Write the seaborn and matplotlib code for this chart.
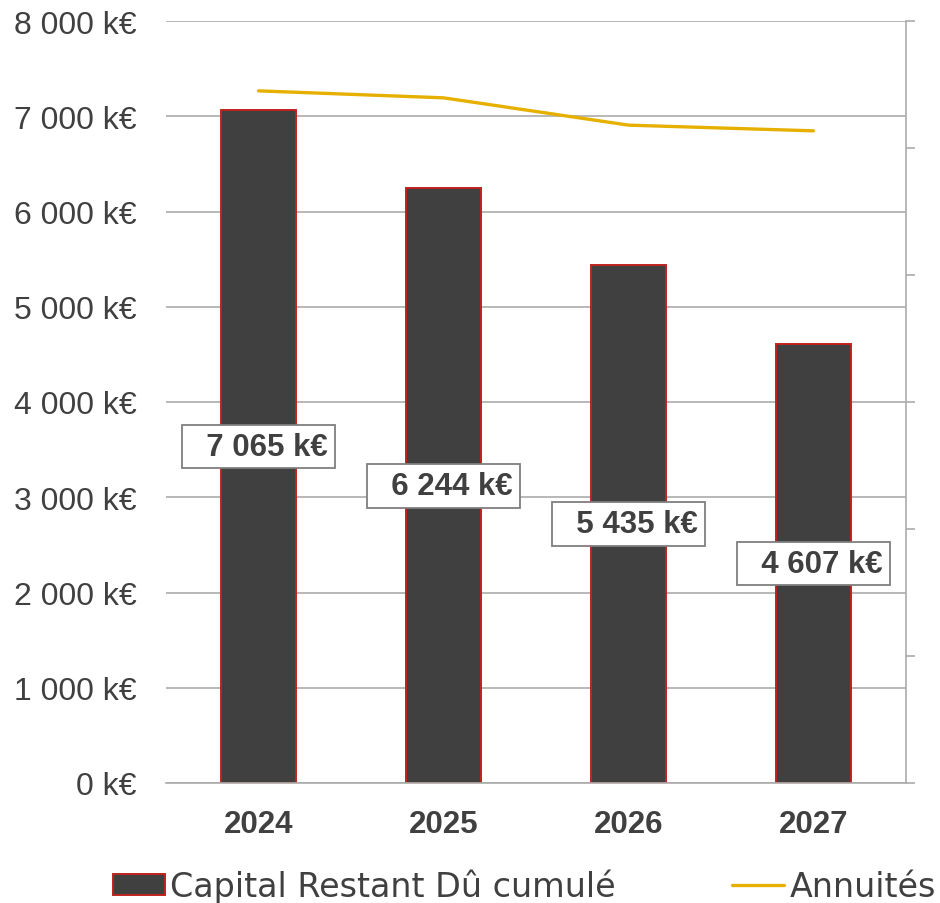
import matplotlib
matplotlib.use("Agg")
import matplotlib.pyplot as plt
import seaborn as sns
import numpy as np
import pandas as pd
from matplotlib.patches import Patch
from matplotlib.lines import Line2D
from matplotlib.ticker import FuncFormatter, MultipleLocator

# Data
years = ["2024", "2025", "2026", "2027"]
capital_restant = [7065, 6244, 5435, 4607]      # k€
annuites = [1090, 1079, 1036, 1027]             # k€ (right axis)

TEXT = "#404040"
BAR = "#404040"
EDGE = "#C0221F"
GOLD = "#E6B000"
GRID = "#ABABAB"

sns.set_theme(style="white")
plt.rcParams["font.family"] = ["Liberation Sans", "DejaVu Sans"]
plt.rcParams["text.color"] = TEXT

fig = plt.figure(figsize=(9.4, 9.04), dpi=100)
ax = fig.add_axes([166 / 940, 1 - 784 / 904, (906 - 166) / 940, (784 - 22) / 904])

df = pd.DataFrame({"annee": years, "capital": capital_restant})
sns.barplot(data=df, x="annee", y="capital", ax=ax, color=BAR, width=0.405,
            saturation=1, edgecolor=EDGE, linewidth=1.4, zorder=2)

ax.set_ylim(0, 8000)
ax.set_xlim(-0.5, len(years) - 0.5)
ax.yaxis.set_major_locator(MultipleLocator(1000))
ax.yaxis.set_major_formatter(FuncFormatter(lambda v, p: f"{int(v):,}".replace(",", " ") + " k€"))
ax.set_axisbelow(True)
ax.grid(axis="y", color=GRID, linewidth=1.2)
ax.grid(axis="x", visible=False)
for s in ["top", "left", "right"]:
    ax.spines[s].set_visible(False)
ax.spines["bottom"].set_color(GRID)
ax.spines["bottom"].set_linewidth(1.2)
ax.set_xlabel("")
ax.set_ylabel("")
ax.tick_params(axis="y", length=0, pad=21, labelsize=23, labelcolor=TEXT)
ax.tick_params(axis="x", length=0, pad=19, labelsize=22.5, labelcolor=TEXT)
for t in ax.get_xticklabels():
    t.set_fontweight("bold")

# Value labels centred on each bar
labels = ["  " + f"{v:,}".replace(",", " ") + " k€" for v in capital_restant]
ax.bar_label(ax.containers[0], labels=labels, label_type="center",
             fontsize=22.5, fontweight="bold", color=TEXT,
             bbox=dict(boxstyle="square,pad=0.22", facecolor="white",
                       edgecolor="#7F7F7F", linewidth=1.3), zorder=5)

# Secondary axis for the annuities line
ax2 = ax.twinx()
sns.lineplot(x=np.arange(len(years)), y=annuites, ax=ax2, color=GOLD,
             linewidth=2.4, legend=False)
ax2.set_ylim(0, 1200)
ax2.yaxis.set_major_locator(MultipleLocator(200))
ax2.set_yticklabels([])
ax2.tick_params(axis="y", direction="out", length=6.5, width=1.2, color=GRID, right=True)
for s in ["top", "left", "bottom"]:
    ax2.spines[s].set_visible(False)
ax2.spines["right"].set_color(GRID)
ax2.spines["right"].set_linewidth(1.2)
ax2.set_ylabel("")
ax2.set_xlim(-0.5, len(years) - 0.5)

handles = [Patch(facecolor=BAR, edgecolor=EDGE, linewidth=1.4),
           Line2D([0], [0], color=GOLD, linewidth=2.4)]
fig.legend(handles, ["Capital Restant Dû cumulé", "Annuités"],
           loc="center left", bbox_to_anchor=(113 / 940, 17 / 904),
           ncol=2, frameon=False, borderpad=0, borderaxespad=0,
           prop={"family": "DejaVu Sans", "size": 24},
           handlelength=1.56, handleheight=0.6, handletextpad=0.15,
           columnspacing=3.5, labelcolor=TEXT)

fig.savefig("out.png", dpi=100)
